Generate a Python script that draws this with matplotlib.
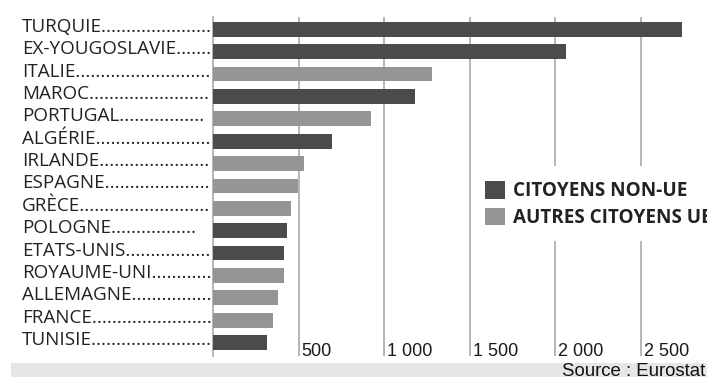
import matplotlib
matplotlib.use("Agg")
import matplotlib.pyplot as plt
from matplotlib.patches import Patch, Rectangle
from matplotlib.transforms import ScaledTranslation

# donnees
pays = ["TURQUIE", "EX-YOUGOSLAVIE", "ITALIE", "MAROC", "PORTUGAL", "ALGÉRIE",
        "IRLANDE", "ESPAGNE", "GRÈCE", "POLOGNE", "ETATS-UNIS", "ROYAUME-UNI",
        "ALLEMAGNE", "FRANCE", "TUNISIE"]
valeurs = [2740, 2060, 1280, 1180, 920, 695, 532, 496, 456, 432, 415, 415, 380, 350, 315]
non_ue = [True, True, False, True, False, True, False, False, False, True, True,
          False, False, False, True]
graduations = [500, 1000, 1500, 2000, 2500]
etiquettes_x = ["500", "1 000", "1 500", "2 000", "2 500"]
legende = ["CITOYENS NON-UE", "AUTRES CITOYENS UE"]

fonce = "#4b4b4d"
clair = "#959598"
grille = "#b4b4bb"
texte = "#222222"

W, H = 707, 377
fig = plt.figure(figsize=(W / 100, H / 100), dpi=100)
# axe: gauche 213 px, haut 17 px, bas 356 px
ax = fig.add_axes([213 / W, 1 - 356 / H, (W - 213) / W, (356 - 17) / H])
ax.set_xlim(0, (W - 213) / 0.1712)
ax.set_ylim(14.6, -0.55)

couleurs = [fonce if n else clair for n in non_ue]
ax.barh(range(len(pays)), valeurs, height=0.66, color=couleurs, zorder=3)

for s in ["top", "right", "bottom"]:
    ax.spines[s].set_visible(False)
ax.spines["left"].set_color(grille)
ax.spines["left"].set_linewidth(1.4)
ax.set_xticks([])
ax.set_yticks([])

# lignes de grille, coupees derriere la legende pour 2000 et 2500
for g in graduations:
    if g >= 2000:
        ax.axvline(g, ymin=0, ymax=(356 - 242) / (356 - 17), color=grille, lw=1.4, zorder=1)
        ax.axvline(g, ymin=(356 - 165) / (356 - 17), ymax=1, color=grille, lw=1.4, zorder=1)
    else:
        ax.axvline(g, color=grille, lw=1.4, zorder=1)

decal = ScaledTranslation(3 / 100, 0, fig.dpi_scale_trans)
for g, lab in zip(graduations, etiquettes_x):
    ax.text(g, 0.0, lab, transform=ax.get_xaxis_transform() + decal,
            ha="left", va="baseline", fontsize=13, family="Liberation Sans",
            color="#1a1a1a")

# noms des pays avec points de conduite jusqu'a l'axe
renderer = fig.canvas.get_renderer()
for i, nom in enumerate(pays):
    fin = 212
    if nom == "PORTUGAL":
        fin = 205
    elif nom == "POLOGNE":
        fin = 200
    t = ax.text(-(213 - 22) / 0.1712, i + 0.11, nom, ha="left", va="baseline",
                fontsize=13.6, family="Open Sans", color=texte)
    n = 0
    while True:
        t.set_text(nom + "." * (n + 1))
        if t.get_window_extent(renderer).x1 > fin:
            t.set_text(nom + "." * n)
            break
        n += 1

poignees = [Patch(facecolor=fonce, edgecolor="none"), Patch(facecolor=clair, edgecolor="none")]
leg = fig.legend(poignees, legende, loc="upper left", bbox_to_anchor=(485 / W, 1 - 181 / H),
                 frameon=False, borderpad=0, borderaxespad=0, handlelength=1.05,
                 handleheight=1.05, handletextpad=0.42, labelspacing=0.35,
                 prop={"family": "Open Sans", "weight": "bold", "size": 13.6})
for t in leg.get_texts():
    t.set_color(texte)

# bandeau source
fig.patches.append(Rectangle((11 / W, 0), 1, 14.5 / H, transform=fig.transFigure,
                             facecolor="#e6e6e6", edgecolor="none", zorder=0))
fig.text(562 / W, 1 - 371 / H, "Source : Eurostat", ha="left", va="center",
         fontsize=13.4, family="Liberation Sans", color="#111111")

fig.savefig("out.png", dpi=100)
